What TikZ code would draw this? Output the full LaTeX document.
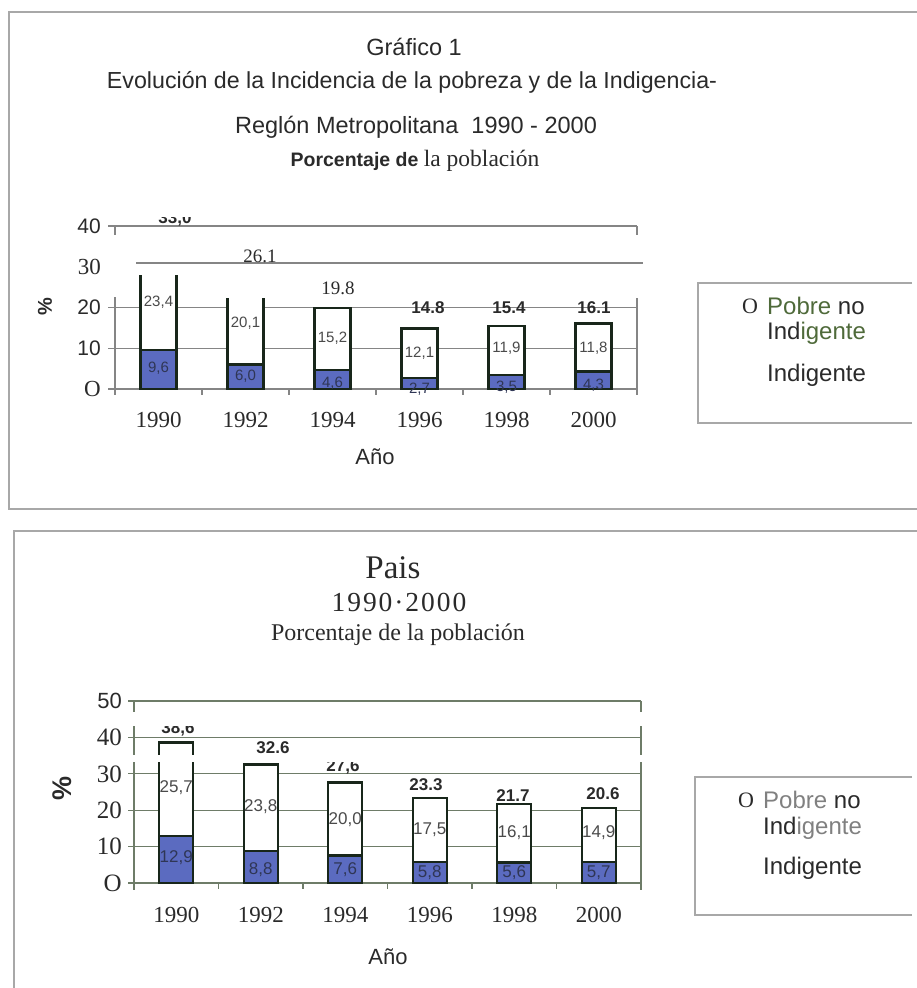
\documentclass[tikz,border=0pt]{standalone}
\usepackage{fontspec}
\setmainfont{Liberation Serif}
\setsansfont{Liberation Sans}
\definecolor{ink}{HTML}{2A2A2A}
\definecolor{rim}{HTML}{A8A8A8}
\definecolor{gridc}{HTML}{858585}
\definecolor{gridg}{HTML}{6E7C68}
\definecolor{indig}{HTML}{5B6BC0}
\definecolor{barc}{HTML}{18261A}
\definecolor{olive}{HTML}{4F6A3A}
\definecolor{soft}{HTML}{4A4A4A}
\definecolor{onblue}{HTML}{2F3655}
\tikzset{
  frame/.style={draw=rim, line width=1.5pt},
  gridl/.style={draw=gridc, line width=1.2pt},
  gridm/.style={draw=gridg, line width=1.2pt},
  barline/.style={draw=barc, line width=2.4pt},
  sans/.style={font=\sffamily\fontsize{#1}{#1}\selectfont, text=ink, inner sep=0pt},
  serif/.style={font=\rmfamily\fontsize{#1}{#1}\selectfont, text=ink, inner sep=0pt},
  tot/.style={font=\sffamily\bfseries\fontsize{17}{17}\selectfont, text=ink, inner sep=0pt},
  wlab/.style={font=\sffamily\fontsize{#1}{#1}\selectfont, text=soft, inner sep=0pt},
  blab/.style={font=\sffamily\fontsize{#1}{#1}\selectfont, text=onblue, inner sep=0pt},
}
\begin{document}
\begin{tikzpicture}[x=1pt,y=-1pt]
\useasboundingbox (0,0) rectangle (917,988);
% frames
\draw[frame] (917,12) -- (9,12) -- (9,509) -- (917,509);
\draw[frame] (917,531) -- (14,531) -- (14,988);
\draw[frame] (912,283) -- (698,283) -- (698,423) -- (912,423);
\draw[frame] (912,777) -- (695,777) -- (695,915) -- (912,915);

% titles, first chart
\node[sans=23.5] (g1) at (414,47) {Gráfico 1};
\node[sans=23.2] (g2) at (412,82) {Evolución de la Incidencia de la pobreza y de la Indigencia-};
\node[sans=23.5] (g3) at (416,127) {Reglón Metropolitana\ \ 1990 - 2000};
\node[sans=19.5] (g4) at (415,161) {\bfseries Porcentaje de {\rmfamily\mdseries\fontsize{23.5}{23.5}\selectfont la población}};

% grid, first chart
\draw[gridl] (108,226) -- (637,226);
\draw[gridl] (136,263) -- (643,263);
\draw[gridl] (108,307.4) -- (637,307.4);
\draw[gridl] (108,348.2) -- (637,348.2);
\draw[gridl] (108,389) -- (637,389);
\draw[gridl] (115,226) -- (115,235);
\draw[gridl] (115,297) -- (115,395);
\draw[gridl] (637,226) -- (637,235);
\draw[gridl] (637,298) -- (637,395);
\foreach \k in {1,...,5} \draw[gridl] (115+87*\k,389) -- ++(0,6);

\node[sans=21,anchor=east] (a40) at (101,226) {40};
\node[serif=23,anchor=east] (a30) at (101,267) {30};
\node[sans=21,anchor=east] (a20) at (101,307) {20};
\node[sans=21,anchor=east] (a10) at (101,348) {10};
\node[serif=23,anchor=east] (a0) at (101,389) {O};
\node[font=\sffamily\bfseries\fontsize{20}{20}\selectfont,text=ink,inner sep=0pt,rotate=90] (apc) at (45,307) {\%};

% bars, first chart
\foreach \yr/\blu/\bl/\wl/\hgt/\shut/\wy/\by [count=\n from 0] in {
  1990/9.6/{9,6}/{23,4}/27.9/0/302/368,
  1992/6.0/{6,0}/{20,1}/22.3/0/323/376,
  1994/4.6/{4,6}/{15,2}/19.8/1/338/383,
  1996/2.7/{2,7}/{12,1}/14.8/1/353/389,
  1998/3.5/{3,5}/{11,9}/15.4/1/348/387,
  2000/4.3/{4,3}/{11,8}/16.1/1/348/385}{
  \pgfmathsetmacro\xc{158.5+87*\n}
  \fill[white] (\xc-18,389) rectangle (\xc+18,389-4.08*\hgt);
  \fill[indig] (\xc-18,389) rectangle (\xc+18,389-4.08*\blu);
  \draw[barline] (\xc-18,389-4.08*\hgt) -- (\xc-18,389) -- (\xc+18,389) -- (\xc+18,389-4.08*\hgt);
  \draw[barline] (\xc-18,389-4.08*\blu) -- (\xc+18,389-4.08*\blu);
  \ifnum\shut=1 \draw[barline] (\xc-19.2,389-4.08*\hgt) -- (\xc+19.2,389-4.08*\hgt); \fi
  \node[wlab=15] (aw\yr) at (\xc,\wy) {\wl};
  \node[blab=15] (ab\yr) at (\xc,\by) {\bl};
  \node[serif=23] (ay\yr) at (\xc,420) {\yr};
}
\begin{scope}
  \clip (150,217) rectangle (200,240);
  \node[tot] (at1990) at (175,219) {33,0};
\end{scope}
\node[serif=19] (at1992) at (260,256) {26.1};
\node[serif=19] (at1994) at (338,288) {19.8};
\node[tot] (at1996) at (428,308) {14.8};
\node[tot] (at1998) at (509,308) {15.4};
\node[tot] (at2000) at (594,308) {16.1};
\node[sans=22] (aano) at (375,457) {Año};

% legend, first chart
\node[serif=22] (alo) at (750,306) {O};
\node[sans=24,anchor=west] (al1) at (767,306) {{\color{olive}Pobre} no};
\node[sans=24,anchor=west] (al2) at (767,333) {Ind{\color{olive}igente}};
\node[sans=24,anchor=west] (al3) at (767,375) {Indigente};

% titles, second chart
\node[serif=33] (h1) at (393,568) {Pais};
\node[serif=27.5] (h2) at (399,602) {\addfontfeature{LetterSpace=7}1990·2000};
\node[serif=24] (h3) at (398,635) {Porcentaje de la población};

% grid, second chart
\foreach \v in {0,10,...,50} \draw[gridm] (128,883-3.64*\v) -- (641,883-3.64*\v);
\draw[gridm] (134,701) -- (134,890);
\draw[gridm] (641,701) -- (641,890);
\foreach \k in {1,...,5} \draw[gridm] (134+84.5*\k,883) -- ++(0,6);

\node[sans=22,anchor=east] (b50) at (122,701) {50};
\node[serif=25,anchor=east] (b40) at (122,737.4) {40};
\node[serif=25,anchor=east] (b30) at (122,773.8) {30};
\node[serif=25,anchor=east] (b20) at (122,810.2) {20};
\node[serif=25,anchor=east] (b10) at (122,846.6) {10};
\node[serif=25,anchor=east] (b0) at (122,883) {O};
\node[font=\sffamily\bfseries\fontsize{27}{27}\selectfont,text=ink,inner sep=0pt,rotate=90] (bpc) at (62,788) {\%};

% bars, second chart
\foreach \yr/\blu/\bl/\wl/\hgt/\wy/\by [count=\n from 0] in {
  1990/12.9/{12,9}/{25,7}/38.6/788/858,
  1992/8.8/{8,8}/{23,8}/32.6/807/870,
  1994/7.6/{7,6}/{20,0}/27.6/820/870,
  1996/5.8/{5,8}/{17,5}/23.3/830/873,
  1998/5.6/{5,6}/{16,1}/21.7/833/873,
  2000/5.7/{5,7}/{14,9}/20.6/833/873}{
  \pgfmathsetmacro\xc{176.25+84.5*\n}
  \fill[white] (\xc-17,883) rectangle (\xc+17,883-3.64*\hgt);
  \fill[indig] (\xc-17,883) rectangle (\xc+17,883-3.64*\blu);
  \draw[barline] (\xc-17,883) rectangle (\xc+17,883-3.64*\hgt);
  \draw[barline] (\xc-17,883-3.64*\blu) -- (\xc+17,883-3.64*\blu);
  \node[wlab=17] (bw\yr) at (\xc,\wy) {\wl};
  \node[blab=17] (bb\yr) at (\xc,\by) {\bl};
  \node[serif=23] (by\yr) at (\xc,915) {\yr};
}
\node[tot] (bt1990) at (178,729) {38,6};
\node[tot] (bt1992) at (273,748) {32.6};
\node[tot] (bt1994) at (343,767) {27,6};
\node[tot] (bt1996) at (426,785) {23.3};
\node[tot] (bt1998) at (513,796) {21.7};
\node[tot] (bt2000) at (603,794) {20.6};
% gaps of the scan
\fill[white] (126,712) rectangle (646,726);
\fill[white] (126,755) rectangle (646,762);
\node[sans=22] (bano) at (388,957) {Año};

% legend, second chart
\node[serif=22] (blo) at (746,800) {O};
\node[sans=24,anchor=west] (bl1) at (763,800) {{\color{gray}Pobre} no};
\node[sans=24,anchor=west] (bl2) at (763,828) {Ind{\color{gray}igente}};
\node[sans=24,anchor=west] (bl3) at (763,868) {Indigente};
\end{tikzpicture}
\end{document}
